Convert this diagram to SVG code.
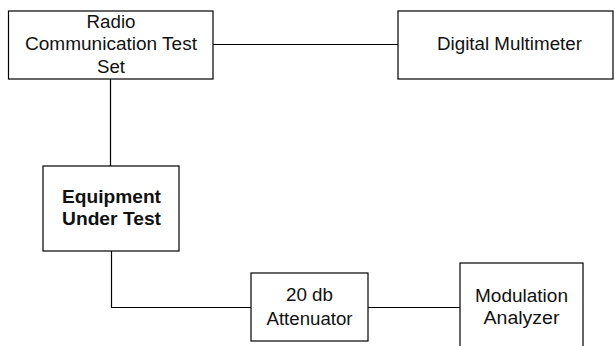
<svg xmlns="http://www.w3.org/2000/svg" width="615" height="346" viewBox="0 0 615 346">
<style>
.box{fill:#fff;stroke:#000;stroke-width:1.2}
.ln{fill:none;stroke:#000;stroke-width:1.2}
text{font-family:"Liberation Sans",Arial,sans-serif;font-size:17.5px;fill:#111;text-anchor:middle}
.b{font-weight:bold;font-size:19px}
</style>
<rect width="615" height="346" fill="#fff"/>
<g id="connectors">
<line class="ln" x1="213" y1="44.5" x2="398" y2="44.5"/>
<line class="ln" x1="110.5" y1="79" x2="110.5" y2="166"/>
<polyline class="ln" points="111.5,251 111.5,307.5 251,307.5"/>
<line class="ln" x1="368" y1="307.5" x2="460" y2="307.5"/>
</g>
<g id="radio">
<rect class="box" x="8.5" y="11" width="204.5" height="68"/>
<text x="111" y="28" textLength="49" lengthAdjust="spacingAndGlyphs">Radio</text>
<text x="111" y="50" textLength="172" lengthAdjust="spacingAndGlyphs">Communication Test</text>
<text x="111" y="73" textLength="28" lengthAdjust="spacingAndGlyphs">Set</text>
</g>
<g id="dmm">
<rect class="box" x="398" y="11" width="215" height="68"/>
<text x="509.5" y="50" textLength="145" lengthAdjust="spacingAndGlyphs">Digital Multimeter</text>
</g>
<g id="eut">
<rect class="box" x="43" y="166" width="136" height="85"/>
<text class="b" x="111.5" y="203" textLength="99" lengthAdjust="spacingAndGlyphs">Equipment</text>
<text class="b" x="111.5" y="225" textLength="99" lengthAdjust="spacingAndGlyphs">Under Test</text>
</g>
<g id="attenuator">
<rect class="box" x="251" y="273" width="117" height="68"/>
<text x="309.5" y="301" textLength="47" lengthAdjust="spacingAndGlyphs">20 db</text>
<text x="309.5" y="325" textLength="86" lengthAdjust="spacingAndGlyphs">Attenuator</text>
</g>
<g id="modulation">
<rect class="box" x="460" y="263" width="123" height="100"/>
<text x="521.5" y="302" textLength="93" lengthAdjust="spacingAndGlyphs">Modulation</text>
<text x="521.5" y="324" textLength="76" lengthAdjust="spacingAndGlyphs">Analyzer</text>
</g>
</svg>
